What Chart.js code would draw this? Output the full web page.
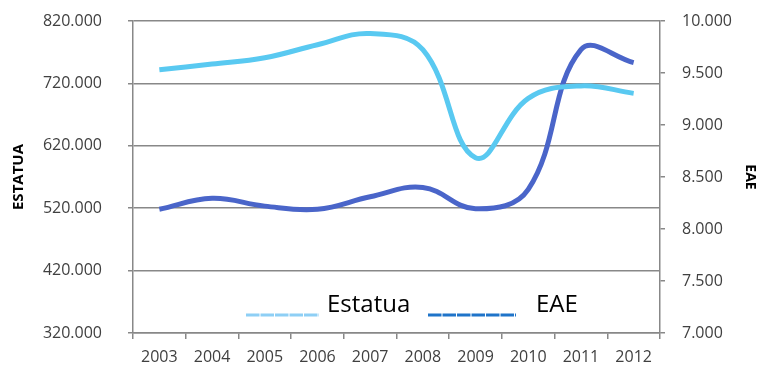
<!DOCTYPE html>
<html>
<head>
<meta charset="utf-8">
<script src="https://cdn.jsdelivr.net/npm/chart.js@4"></script>
<style>
  html, body { margin: 0; padding: 0; background: #fff; }
  #wrap { width: 758px; height: 365px; position: relative; }
</style>
</head>
<body>
<div id="wrap"><canvas id="myChart"></canvas></div>
<script>
const years = ['2003', '2004', '2005', '2006', '2007', '2008', '2009', '2010', '2011', '2012'];
const estatua = [742000, 751000, 761000, 782000, 800000, 774000, 601000, 696000, 716000, 704000];
const eae = [8190, 8295, 8220, 8190, 8310, 8400, 8195, 8380, 9725, 9600];
const estatuaTicks = [320000, 820000, 100000]; // min, max, step
const eaeTicks = [7000, 10000, 500];

const gridColor = '#888888';
const tickColor = '#404040';
const font = "'Open Sans', sans-serif";

function dots(v) {
  return Math.round(v).toString().replace(/\B(?=(\d{3})+(?!\d))/g, '.');
}

// the "legend" sits inside the plot: coloured underscores followed by the name
const textLegend = {
  id: 'textLegend',
  afterDraw(chart) {
    const c = chart.ctx;
    const items = [
      { x1: 246, x2: 319, color: '#8ecff5', text: 'Estatua', tx: 327 },
      { x1: 428, x2: 516, color: '#1f74c9', text: 'EAE', tx: 536 }
    ];
    c.save();
    items.forEach(function(it) {
      c.strokeStyle = it.color;
      c.lineWidth = 3;
      c.setLineDash([13.5, 1]);
      c.beginPath();
      c.moveTo(it.x1, 315);
      c.lineTo(it.x2, 315);
      c.stroke();
      c.setLineDash([]);
      c.fillStyle = '#000';
      c.font = "24px " + font;
      c.textBaseline = 'alphabetic';
      c.fillText(it.text, it.tx, 312);
    });
    c.restore();
  }
};

// fixed axis sizes, and no extra top/bottom padding from tick padding
function fixY(width) {
  return function(scale) {
    scale.width = width;
    scale.paddingTop = 0;
    scale.paddingBottom = 0;
  };
}

new Chart(document.getElementById('myChart'), {
  type: 'line',
  data: {
    labels: years,
    datasets: [
      {
        label: 'Estatua',
        data: estatua,
        yAxisID: 'y',
        borderColor: '#59c9f1',
        borderWidth: 5,
        pointRadius: 0,
        tension: 0.4,
        fill: false
      },
      {
        label: 'EAE',
        data: eae,
        yAxisID: 'y1',
        borderColor: '#4a65c9',
        borderWidth: 5,
        pointRadius: 0,
        tension: 0.4,
        fill: false
      }
    ]
  },
  options: {
    responsive: true,
    maintainAspectRatio: false,
    animation: false,
    layout: { padding: { top: 21, left: 0, right: 0, bottom: 0 } },
    scales: {
      x: {
        offset: true,
        grid: { offset: true, drawOnChartArea: false, tickLength: 6, color: gridColor, lineWidth: 1.5 },
        border: { color: gridColor, width: 1.5 },
        ticks: { color: tickColor, padding: 9, font: { family: font, size: 16 }, maxRotation: 0 },
        afterFit: function(scale) { scale.height = 32; }
      },
      y: {
        position: 'left',
        min: estatuaTicks[0],
        max: estatuaTicks[1],
        grid: { color: gridColor, lineWidth: 1.5, tickLength: 5 },
        border: { color: gridColor, width: 1.5 },
        ticks: {
          stepSize: estatuaTicks[2],
          color: tickColor,
          padding: 26,
          font: { family: font, size: 16 },
          callback: function(value) { return dots(value); }
        },
        title: {
          display: true,
          text: 'ESTATUA',
          color: '#000',
          font: { family: font, size: 15, weight: 'bold' },
          padding: { top: 10, bottom: 0 }
        },
        afterFit: fixY(133)
      },
      y1: {
        position: 'right',
        min: eaeTicks[0],
        max: eaeTicks[1],
        grid: { drawOnChartArea: false, color: gridColor, lineWidth: 1.5, tickLength: 5 },
        border: { color: gridColor, width: 1.5 },
        ticks: {
          stepSize: eaeTicks[2],
          color: tickColor,
          padding: 17,
          font: { family: font, size: 16 },
          callback: function(value) { return dots(value); }
        },
        title: {
          display: true,
          text: 'EAE',
          color: '#000',
          font: { family: font, size: 14, weight: 'bold' },
          padding: { top: 0, bottom: 0 }
        },
        afterFit: fixY(98)
      }
    },
    plugins: {
      legend: { display: false },
      tooltip: { enabled: false }
    }
  },
  plugins: [textLegend]
});
</script>
</body>
</html>
